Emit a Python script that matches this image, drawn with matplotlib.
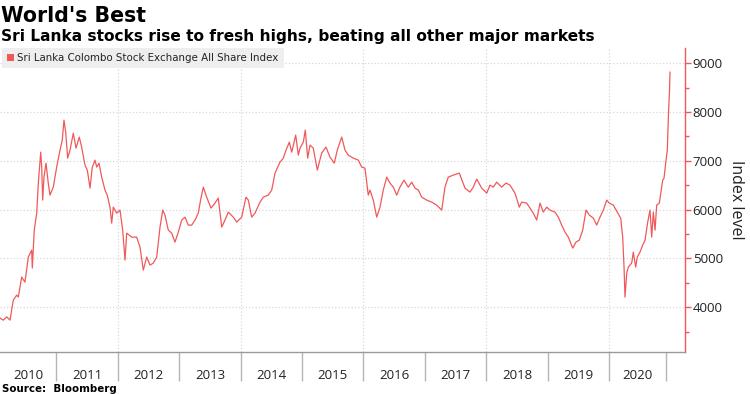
import matplotlib.pyplot as plt
from matplotlib.patches import Patch
from matplotlib.ticker import FixedLocator, MultipleLocator

# Colombo All Share Index (decimal year, index level)
years = [
    2010.080, 2010.134, 2010.189, 2010.243, 2010.296, 2010.352, 2010.378, 2010.433,
    2010.487, 2010.541, 2010.596, 2010.606, 2010.638, 2010.678, 2010.704, 2010.743,
    2010.759, 2010.775, 2010.796, 2010.829, 2010.866, 2010.894, 2010.948, 2011.003,
    2011.057, 2011.094, 2011.122, 2011.150, 2011.182, 2011.220, 2011.274, 2011.318,
    2011.371, 2011.410, 2011.464, 2011.502, 2011.546, 2011.583, 2011.627, 2011.655,
    2011.692, 2011.736, 2011.790, 2011.827, 2011.871, 2011.899, 2011.925, 2011.980,
    2012.034, 2012.078, 2012.116, 2012.143, 2012.225, 2012.306, 2012.360, 2012.414,
    2012.469, 2012.523, 2012.577, 2012.632, 2012.686, 2012.730, 2012.767, 2012.821,
    2012.876, 2012.930, 2012.984, 2013.039, 2013.093, 2013.147, 2013.202, 2013.256,
    2013.309, 2013.353, 2013.391, 2013.446, 2013.516, 2013.581, 2013.635, 2013.691,
    2013.744, 2013.798, 2013.879, 2013.935, 2014.016, 2014.086, 2014.124, 2014.179,
    2014.233, 2014.315, 2014.368, 2014.450, 2014.505, 2014.559, 2014.640, 2014.694,
    2014.738, 2014.792, 2014.831, 2014.896, 2014.938, 2014.966, 2015.020, 2015.052,
    2015.091, 2015.129, 2015.182, 2015.248, 2015.319, 2015.389, 2015.454, 2015.524,
    2015.573, 2015.645, 2015.699, 2015.752, 2015.834, 2015.915, 2015.971, 2016.024,
    2016.078, 2016.106, 2016.160, 2016.215, 2016.269, 2016.322, 2016.378, 2016.432,
    2016.485, 2016.541, 2016.594, 2016.660, 2016.730, 2016.785, 2016.839, 2016.893,
    2016.948, 2017.029, 2017.111, 2017.192, 2017.274, 2017.327, 2017.381, 2017.463,
    2017.560, 2017.653, 2017.734, 2017.788, 2017.844, 2017.925, 2018.007, 2018.060,
    2018.114, 2018.169, 2018.251, 2018.321, 2018.386, 2018.467, 2018.537, 2018.577,
    2018.658, 2018.712, 2018.765, 2018.821, 2018.875, 2018.928, 2018.984, 2019.037,
    2019.119, 2019.173, 2019.228, 2019.282, 2019.336, 2019.407, 2019.461, 2019.515,
    2019.570, 2019.624, 2019.678, 2019.743, 2019.798, 2019.852, 2019.906, 2019.961,
    2020.003, 2020.068, 2020.134, 2020.189, 2020.221, 2020.243, 2020.259, 2020.287,
    2020.313, 2020.368, 2020.394, 2020.433, 2020.459, 2020.503, 2020.547, 2020.585,
    2020.629, 2020.666, 2020.694, 2020.720, 2020.748, 2020.775, 2020.818, 2020.873,
    2020.894, 2020.927, 2020.948, 2020.959, 2020.967, 2020.984, 2020.992,
]
index_level = [
    3775, 3733, 3800, 3733, 4143, 4246, 4205, 4615,
    4512, 5025, 5168, 4800, 5578, 5926, 6541, 7176,
    6869, 6193, 6664, 6950, 6541, 6295, 6459, 6869,
    7217, 7422, 7832, 7586, 7053, 7217, 7565, 7258,
    7484, 7279, 6910, 6807, 6438, 6869, 7012, 6869,
    6950, 6664, 6398, 6295, 6049, 5721, 6049, 5926,
    5988, 5578, 4963, 5516, 5434, 5434, 5230, 4758,
    5025, 4861, 4902, 5025, 5639, 5988, 5885, 5578,
    5516, 5332, 5537, 5783, 5844, 5680, 5680, 5783,
    5926, 6234, 6459, 6254, 6029, 6131, 6234, 5639,
    5783, 5947, 5844, 5742, 5844, 6254, 6193, 5844,
    5926, 6152, 6254, 6295, 6398, 6746, 6971, 7053,
    7217, 7381, 7176, 7525, 7115, 7258, 7381, 7627,
    7053, 7320, 7258, 6807, 7156, 7279, 7074, 6950,
    7217, 7484, 7217, 7115, 7053, 7012, 6869, 6848,
    6295, 6398, 6193, 5844, 6049, 6398, 6664, 6541,
    6459, 6295, 6459, 6602, 6459, 6561, 6438, 6398,
    6254, 6193, 6152, 6090, 5988, 6459, 6664, 6705,
    6746, 6438, 6357, 6459, 6623, 6438, 6336, 6500,
    6459, 6561, 6459, 6541, 6500, 6336, 6049, 6152,
    6131, 6029, 5926, 5783, 6131, 5947, 6049, 5988,
    5947, 5844, 5680, 5537, 5434, 5209, 5332, 5373,
    5578, 5988, 5885, 5824, 5680, 5844, 5988, 6193,
    6131, 6090, 5947, 5824, 5434, 4820, 4205, 4697,
    4820, 4902, 5127, 4820, 5025, 5127, 5271, 5373,
    5742, 5988, 5434, 5947, 5578, 6090, 6131, 6602,
    6643, 7012, 7217, 7627, 7975, 8447, 8815,
]

year_labels = ['2010', '2011', '2012', '2013', '2014', '2015',
               '2016', '2017', '2018', '2019', '2020']
year_edges = [2010.080, 2011, 2012, 2013, 2014, 2015, 2016,
              2017, 2018, 2019, 2020, 2020.93]
y_ticks = [4000, 5000, 6000, 7000, 8000, 9000]

red = '#f0595a'
tick_font = 'Open Sans'

fig = plt.figure(figsize=(7.5, 3.94), dpi=100)
ax = fig.add_axes([0.0, 1 - 352 / 394, 685 / 750, (352 - 48) / 394])

ax.plot(years, index_level, color=red, linewidth=0.9)

ax.set_xlim(2010.080, 2021.236)
ax.set_ylim(3080, 9310)

# gridlines: horizontal every 1000, vertical every 2 years
for v in y_ticks:
    ax.axhline(v, color='#d8d8d8', linestyle=':', linewidth=0.9, zorder=0)
for yr in [2012, 2014, 2016, 2018, 2020]:
    ax.axvline(yr, color='#d8d8d8', linestyle=':', linewidth=0.9, zorder=0)

# spines
ax.spines['top'].set_visible(False)
ax.spines['left'].set_visible(False)
ax.spines['right'].set_color(red)
ax.spines['right'].set_linewidth(1.0)
ax.spines['bottom'].set_color('#9a9a9a')
ax.spines['bottom'].set_linewidth(1.0)

# y axis on the right
ax.yaxis.tick_right()
ax.yaxis.set_label_position('right')
ax.set_yticks(y_ticks)
ax.set_yticklabels([str(v) for v in y_ticks], fontsize=9.5, family=tick_font, color='#222222')
ax.yaxis.set_minor_locator(MultipleLocator(500))
ax.tick_params(axis='y', which='major', length=4, width=1, color=red, pad=1.5)
ax.tick_params(axis='y', which='minor', length=3, width=1, color=red)
ax.set_ylabel('Index level', fontsize=11.5, family=tick_font, rotation=270,
              labelpad=15, color='#222222')

# x axis: long separators at year edges, labels centred between them
ax.xaxis.set_major_locator(FixedLocator(year_edges[1:]))
ax.xaxis.set_major_formatter(plt.NullFormatter())
mids = [(year_edges[i] + year_edges[i + 1]) / 2 for i in range(len(year_labels))]
ax.xaxis.set_minor_locator(FixedLocator(mids))
ax.set_xticklabels(year_labels, minor=True, fontsize=9.5, family=tick_font, color='#222222')
ax.tick_params(axis='x', which='major', length=21, width=1, color='#b5b5b5')
ax.tick_params(axis='x', which='minor', length=0, pad=12)

# legend box
leg = ax.legend(handles=[Patch(facecolor=red, edgecolor='none')],
                labels=['Sri Lanka Colombo Stock Exchange All Share Index'],
                loc='upper left', bbox_to_anchor=(0.003, 1.0), frameon=True,
                facecolor='#eeeeee', edgecolor='none', fancybox=False, framealpha=1,
                handlelength=0.7, handleheight=0.7, handletextpad=0.3,
                borderpad=0.5, borderaxespad=0, fontsize=7.4)
for t in leg.get_texts():
    t.set_color('#222222')

# titles and source
fig.text(0.001, 1 - 22 / 394, "World's Best", fontsize=14.8, fontweight='bold',
         ha='left', va='baseline')
fig.text(0.001, 1 - 41 / 394, 'Sri Lanka stocks rise to fresh highs, beating all other major markets',
         fontsize=11.1, fontweight='bold', ha='left', va='baseline')
fig.text(0.003, 1 - 389 / 394, 'Source:  Bloomberg', fontsize=7.4, fontweight='bold',
         ha='left', va='center')

fig.savefig('out.png', dpi=100)
